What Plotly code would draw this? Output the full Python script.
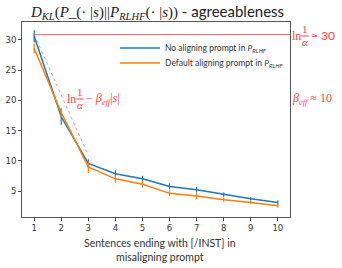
import plotly.graph_objects as go

x_vals = [1, 2, 3, 4, 5, 6, 7, 8, 9, 10]
no_align = [30.6, 17.3, 9.6, 7.9, 7.05, 5.8, 5.25, 4.45, 3.75, 3.15]
no_align_err = [1.0, 1.3, 0.7, 0.55, 0.5, 0.5, 0.45, 0.35, 0.3, 0.35]
default_align = [28.6, 18.0, 9.0, 7.05, 6.15, 4.65, 4.2, 3.6, 3.15, 2.6]
default_align_err = [0.8, 0.8, 1.0, 0.65, 0.55, 0.5, 0.5, 0.35, 0.3, 0.35]
ln_inv_alpha = 30.9
beta_eff = 10
bound_x = [1, 3]
bound_y = [ln_inv_alpha - beta_eff * (v - 1) for v in bound_x]
x_ticks = [1, 2, 3, 4, 5, 6, 7, 8, 9, 10]
y_ticks = [5, 10, 15, 20, 25, 30]

BLUE = "#1f77b4"
ORANGE = "#ff7f0e"
RED = "#ff4545"
SERIF = "Liberation Serif"
SANS = "Lato"

# plot area in px
L, R, T, B = 22, 290, 22, 217
W, H = 342, 268


def px(xp):
    return (xp - L) / (R - L)


def py(yp):
    return (B - yp) / (B - T)


fig = go.Figure()

fig.add_trace(go.Scatter(
    x=bound_x, y=bound_y, mode="lines",
    line=dict(color="rgba(255,110,110,0.75)", width=1, dash="dot"),
    showlegend=False, hoverinfo="skip"))

fig.add_trace(go.Scatter(
    x=x_vals, y=no_align, mode="lines",
    line=dict(color=BLUE, width=1.5),
    error_y=dict(type="data", array=no_align_err, color=BLUE, thickness=1.2, width=0),
    name="No aligning prompt in <i>P</i><sub><i>RLHF</i></sub>", legend="legend"))

fig.add_trace(go.Scatter(
    x=x_vals, y=default_align, mode="lines",
    line=dict(color=ORANGE, width=1.5),
    error_y=dict(type="data", array=default_align_err, color=ORANGE, thickness=1.2, width=0),
    name="Default aligning prompt in <i>P</i><sub><i>RLHF</i></sub>", legend="legend2"))

# horizontal ln(1/alpha) line
fig.add_shape(type="line", xref="x", yref="y", x0=1, x1=10.45,
              y0=ln_inv_alpha, y1=ln_inv_alpha,
              line=dict(color="rgba(255,80,80,0.85)", width=1))

annotations = []


def ann(text, xp, yp, size, family=SERIF, xanchor="left", color=RED):
    annotations.append(dict(text=text, x=px(xp), y=py(yp), xref="paper", yref="paper",
                            showarrow=False, xanchor=xanchor, yanchor="middle",
                            borderpad=0,
                            font=dict(family=family, size=size, color=color)))


def frac_ln(x0, yc, size):
    ann("ln", x0, yc + 1, size)
    ann("1", x0 + 14, yc - 6, size - 1, xanchor="center")
    ann("<i>α</i>", x0 + 14, yc + 7, size - 1, xanchor="center")
    fig.add_shape(type="line", xref="paper", yref="paper",
                  x0=px(x0 + 10.5), x1=px(x0 + 17.5), y0=py(yc + 1), y1=py(yc + 1),
                  line=dict(color=RED, width=1))


# right-side annotations
frac_ln(291, 35, 12)
ann("≈ 30", 310, 36, 12, family=SANS)
ann("<i>β</i><sub><i>eff</i></sub> ≈ 10", 291, 99, 12, family=SERIF)

# inside annotation
frac_ln(66, 98, 12)
ann("− <i>β</i><sub><i>eff</i></sub>|<i>s</i>|", 85, 99, 12)

# title
annotations.append(dict(
    text=("<i>D</i><sub><i>KL</i></sub>(<i>P</i>_(· |<i>s</i>)||<i>P</i><sub><i>RLHF</i></sub>(· |<i>s</i>))"
          "<span style=\"font-family:Lato\"> - agreeableness</span>"),
    x=px(157), y=py(12), xref="paper", yref="paper", showarrow=False,
    xanchor="center", yanchor="middle",
    font=dict(family=SERIF, size=15, color="#222")))

# x axis title
annotations.append(dict(
    text="Sentences ending with [/INST] in<br>misaligning prompt",
    x=px(160), y=py(250), xref="paper", yref="paper", showarrow=False,
    xanchor="center", yanchor="middle",
    font=dict(family=SANS, size=10.5, color="#333")))

legend_style = dict(xanchor="left", yanchor="middle",
                    bgcolor="rgba(255,255,255,0)", borderwidth=0,
                    font=dict(family=SANS, size=8.5, color="#333"),
                    itemwidth=40, tracegroupgap=0)

fig.update_layout(
    width=W, height=H,
    margin=dict(l=L, r=W - R, t=T, b=H - B, autoexpand=False),
    paper_bgcolor="white", plot_bgcolor="white",
    annotations=annotations,
    showlegend=True,
    legend=dict(x=px(115), y=py(48), **legend_style),
    legend2=dict(x=px(115), y=py(63), **legend_style),
    xaxis=dict(range=[0.55, 10.45], tickvals=x_ticks, ticks="outside", ticklen=3,
               tickcolor="#444", showline=True, linecolor="#555", mirror=True,
               linewidth=1, showgrid=False, zeroline=False, automargin=False,
               tickfont=dict(family="DejaVu Sans", size=8.5, color="#333")),
    yaxis=dict(range=[0.74, 32.97], tickvals=y_ticks, ticks="outside", ticklen=3,
               tickcolor="#444", showline=True, linecolor="#555", mirror=True,
               linewidth=1, showgrid=False, zeroline=False, automargin=False,
               tickfont=dict(family="DejaVu Sans", size=8.5, color="#333")),
)

fig.write_html("out.html", config={"displayModeBar": False},
               post_script="document.body.style.margin='0';document.body.style.overflow='hidden';")
